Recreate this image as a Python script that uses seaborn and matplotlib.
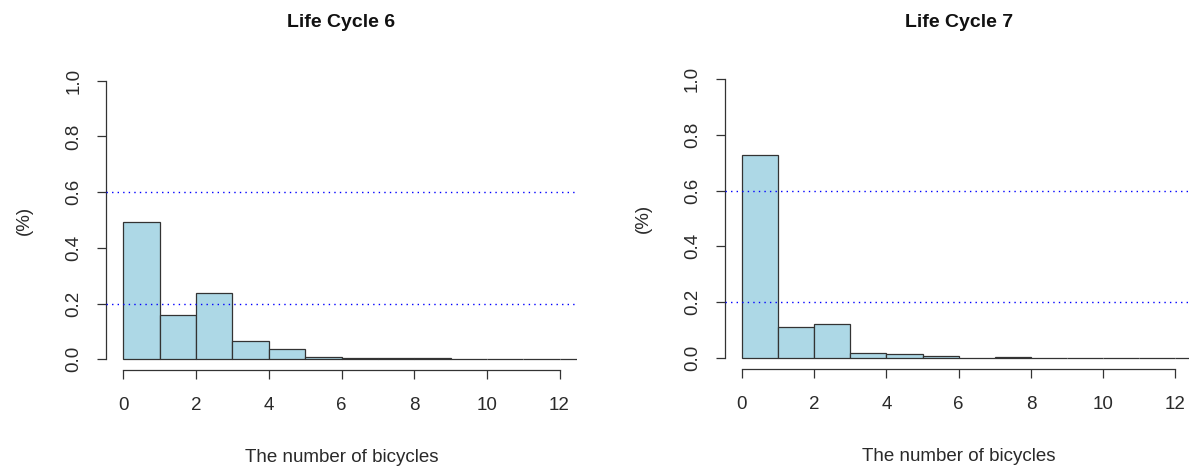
import pandas as pd
import matplotlib
matplotlib.use("Agg")
import matplotlib.pyplot as plt
import seaborn as sns

# number of bicycles per household (bin = [k, k+1))
bikes = list(range(14))
share_lc6 = [0.493, 0.158, 0.237, 0.064, 0.036, 0.009, 0.003, 0.003, 0.003, 0, 0, 0, 0, 0]
share_lc7 = [0.728, 0.111, 0.122, 0.019, 0.014, 0.006, 0.0, 0.004, 0, 0, 0, 0, 0, 0]
titles = ["Life Cycle 6", "Life Cycle 7"]
ref_lines = [0.2, 0.6]
xticks = [0, 2, 4, 6, 8, 10, 12]
yticks = [0.0, 0.2, 0.4, 0.6, 0.8, 1.0]

sns.set_style("white")
plt.rcParams["font.family"] = ["Liberation Sans", "DejaVu Sans"]

W, H = 1189, 467
fig = plt.figure(figsize=(W / 100, H / 100), dpi=100)
ax1 = fig.add_axes([106 / W, (H - 370.4) / H, 471 / W, 300.8 / H])
ax2 = fig.add_axes([724.5 / W, (H - 369.2) / H, 468.3 / W, 301.4 / H])

txt = "#2a2a2a"
edge = "#333333"
bins = list(range(15))

for ax, share, title, tpad in zip([ax1, ax2], [share_lc6, share_lc7], titles, [30.4, 29.2]):
    df = pd.DataFrame({"bikes": bikes, "share": share})
    sns.histplot(data=df, x="bikes", weights="share", bins=bins, stat="count",
                 color="#ADD8E6", edgecolor=edge, linewidth=0.9, alpha=1, ax=ax)
    for y in ref_lines:
        ax.axhline(y, color="blue", linestyle=(0, (1, 3)), linewidth=1.0, zorder=3)
    ax.set_xlim(-0.48, 12.48)
    ax.set_ylim(-0.04, 1.04)
    ax.set_xticks(xticks)
    ax.set_xticklabels([str(t) for t in xticks])
    ax.set_yticks(yticks)
    ax.set_yticklabels([f"{t:.1f}" for t in yticks], rotation=90, va="center")
    ax.tick_params(axis="both", direction="out", length=6.5, width=0.9,
                   color=edge, labelsize=13.5, labelcolor=txt, left=True, bottom=True)
    ax.tick_params(axis="x", pad=12.5)
    ax.tick_params(axis="y", pad=10.5)
    for s in ["top", "right"]:
        ax.spines[s].set_visible(False)
    ax.spines["left"].set_bounds(0, 1)
    ax.spines["bottom"].set_bounds(0, 12)
    for s in ["left", "bottom"]:
        ax.spines[s].set_color(edge)
        ax.spines[s].set_linewidth(0.9)
    ax.grid(False)
    ax.set_title(title, fontsize=14, fontweight="bold", color="#111111", pad=tpad)
    ax.set_xlabel("The number of bicycles", fontsize=13.5, color=txt)
    ax.xaxis.label.set_va("baseline")
    ax.xaxis.set_label_coords(0.5, -91.6 / 300.8)
    ax.set_ylabel("(%)", fontsize=13.5, color=txt)
    ax.yaxis.label.set_va("center")
    ax.yaxis.set_label_coords(-82 / 471, 0.5)

fig.savefig("out.png", dpi=100)
